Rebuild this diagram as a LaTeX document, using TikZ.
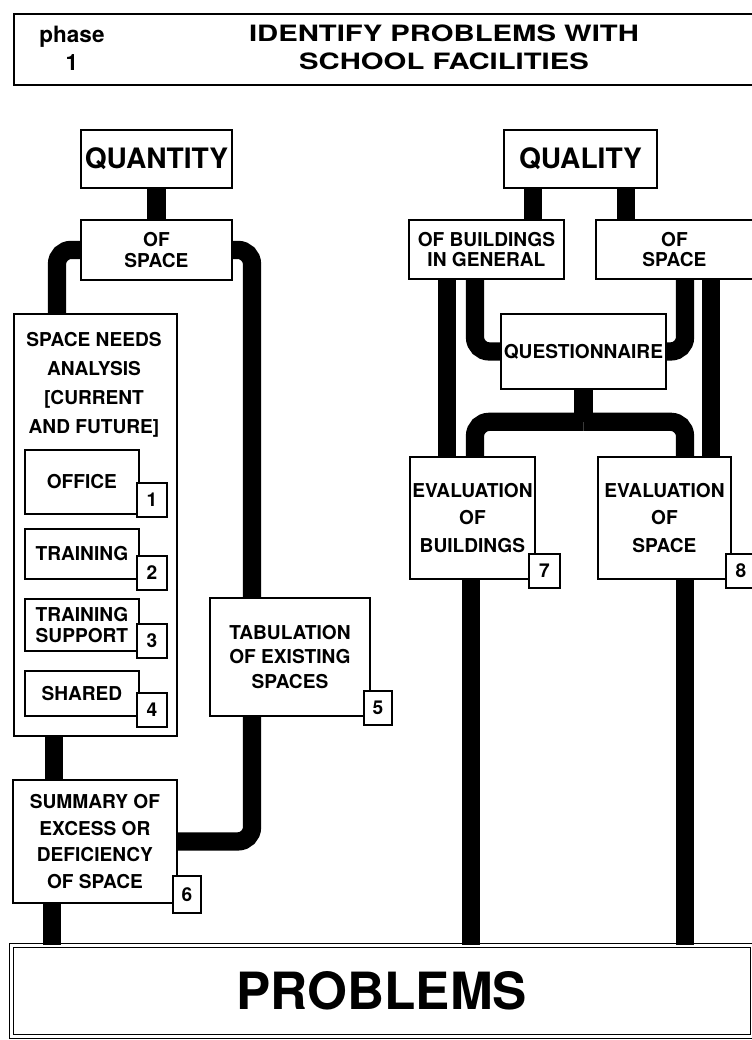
\documentclass[tikz,border=0pt]{standalone}
\usepackage{fontspec}
\setmainfont{TeX Gyre Heros}
\usetikzlibrary{calc}

\begin{document}
\begin{tikzpicture}[x=0.025cm,y=-0.025cm,
  box/.style={draw,line width=1.3pt,fill=white,anchor=north west,inner sep=0pt,align=center,
    font=\bfseries\fontsize{13.6}{19}\selectfont},
  numbox/.style={box,minimum width=0.75cm,minimum height=0.85cm},
  pipe/.style={line width=13pt,rounded corners=10pt}]
\useasboundingbox (0,0) rectangle (751,1040);

\node[box,minimum width=18.625cm,minimum height=1.775cm] (header) at (13,13) {};
\node[font=\bfseries\fontsize{16}{20}\selectfont,align=center] (phase) at (72,48) {phase\\1};
\node[font=\bfseries\fontsize{16}{20}\selectfont,align=center,xscale=1.3] (title) at (444,47)
  {IDENTIFY PROBLEMS WITH\\SCHOOL FACILITIES};

\node[box,minimum width=3.775cm,minimum height=1.45cm,font=\bfseries\fontsize{20}{22}\selectfont]
  (quantity) at (80,129) {QUANTITY};
\node[box,minimum width=3.775cm,minimum height=1.5cm,font=\bfseries\fontsize{13.6}{14.5}\selectfont]
  (ofspace) at (80,219) {OF\\SPACE};
\node[box,minimum width=4.075cm,minimum height=10.55cm] (needs) at (13,313) {};
\node[font=\bfseries\fontsize{13.6}{20.5}\selectfont,align=center] (needstext) at (94,385)
  {SPACE NEEDS\\ANALYSIS\\{[}CURRENT\\AND FUTURE]};
\node[box,minimum width=2.85cm,minimum height=1.6cm] (office) at (24,449) {OFFICE};
\node[numbox] (n1) at (136,482) {1};
\node[box,minimum width=2.85cm,minimum height=1.25cm] (training) at (24,528) {TRAINING};
\node[numbox] (n2) at (136,555) {2};
\node[box,minimum width=2.85cm,minimum height=1.3cm,font=\bfseries\fontsize{13.6}{15}\selectfont]
  (support) at (24,598) {TRAINING\\SUPPORT};
\node[numbox] (n3) at (136,623) {3};
\node[box,minimum width=2.85cm,minimum height=1.125cm] (shared) at (24,670) {SHARED};
\node[numbox] (n4) at (136,692) {4};
\node[box,minimum width=4.1cm,minimum height=3.075cm] (summary) at (12,779)
  {SUMMARY OF\\EXCESS OR\\DEFICIENCY\\OF SPACE};
\node[numbox,minimum width=0.7cm,minimum height=0.925cm] (n6) at (172,875) {6};
\node[box,minimum width=4cm,minimum height=2.95cm,font=\bfseries\fontsize{13.6}{17.7}\selectfont]
  (tab) at (209,597) {TABULATION\\OF EXISTING\\SPACES};
\node[numbox,minimum width=0.7cm] (n5) at (363,690) {5};

\node[box,minimum width=3.825cm,minimum height=1.45cm,font=\bfseries\fontsize{20}{22}\selectfont]
  (quality) at (503,129) {QUALITY};
\node[box,minimum width=3.875cm,minimum height=1.475cm,font=\bfseries\fontsize{13.6}{14.5}\selectfont]
  (ofbuild) at (408,219) {OF BUILDINGS\\IN GENERAL};
\node[box,minimum width=3.925cm,minimum height=1.475cm,font=\bfseries\fontsize{13.6}{14.5}\selectfont]
  (ofspaceR) at (595,219) {OF\\SPACE};
\node[box,minimum width=4.125cm,minimum height=1.875cm] (quest) at (500,313) {QUESTIONNAIRE};
\node[box,minimum width=3.125cm,minimum height=3.05cm,font=\bfseries\fontsize{13.6}{19.5}\selectfont]
  (evalB) at (409,456) {EVALUATION\\OF\\BUILDINGS};
\node[numbox,minimum width=0.775cm] (n7) at (528,553) {7};
\node[box,minimum width=3.325cm,minimum height=3.05cm,font=\bfseries\fontsize{13.6}{19.5}\selectfont]
  (evalS) at (597,456) {EVALUATION\\OF\\SPACE};
\node[numbox] (n8) at (725,553) {8};

\node[box,line width=0.8pt,double,double distance=1.6pt,minimum width=18.5cm,minimum height=2.275cm,
  font=\bfseries\fontsize{36.5}{40}\selectfont] (problems) at (11,945) {PROBLEMS};

\draw[pipe] (quantity.south) -- (ofspace.north);
\draw[pipe] (ofspace.west) -| ($(needs.north west)+(44,0)$);
\draw[pipe] (ofspace.east) -| ($(tab.north west)+(43,0)$);
\draw[pipe] ($(needs.south west)+(41,0)$) -- ($(summary.north west)+(42,0)$);
\coordinate (sumout) at ($(summary.south west)+(40,0)$);
\draw[pipe] (sumout) -- (sumout |- problems.north);
\draw[pipe] ($(tab.south west)+(43,0)$) |- (summary.east);

\coordinate (qlA) at ($(quality.south west)+(30,0)$);
\coordinate (qlB) at ($(quality.south west)+(123,0)$);
\draw[pipe] (qlA) -- (qlA |- ofbuild.north);
\draw[pipe] (qlB) -- (qlB |- ofspaceR.north);
\coordinate (obA) at ($(ofbuild.south west)+(39,0)$);
\draw[pipe] (obA) -- (obA |- evalB.north);
\draw[pipe] ($(ofbuild.south west)+(67,0)$) |- (quest.west);
\draw[pipe] ($(ofspaceR.south west)+(90,0)$) |- (quest.east);
\coordinate (osA) at ($(ofspaceR.south west)+(116,0)$);
\draw[pipe] (osA) -- (osA |- evalS.north);
\coordinate (qfork) at ($(quest.south)+(0,32)$);
\draw[pipe] (quest.south) -- (qfork);
\draw[pipe] (qfork) -| ($(evalB.north west)+(66,0)$);
\draw[pipe] (qfork) -| ($(evalS.north west)+(88,0)$);
\coordinate (ebA) at ($(evalB.south west)+(62,0)$);
\draw[pipe] (ebA) -- (ebA |- problems.north);
\coordinate (esA) at ($(evalS.south west)+(88,0)$);
\draw[pipe] (esA) -- (esA |- problems.north);
\end{tikzpicture}
\end{document}
